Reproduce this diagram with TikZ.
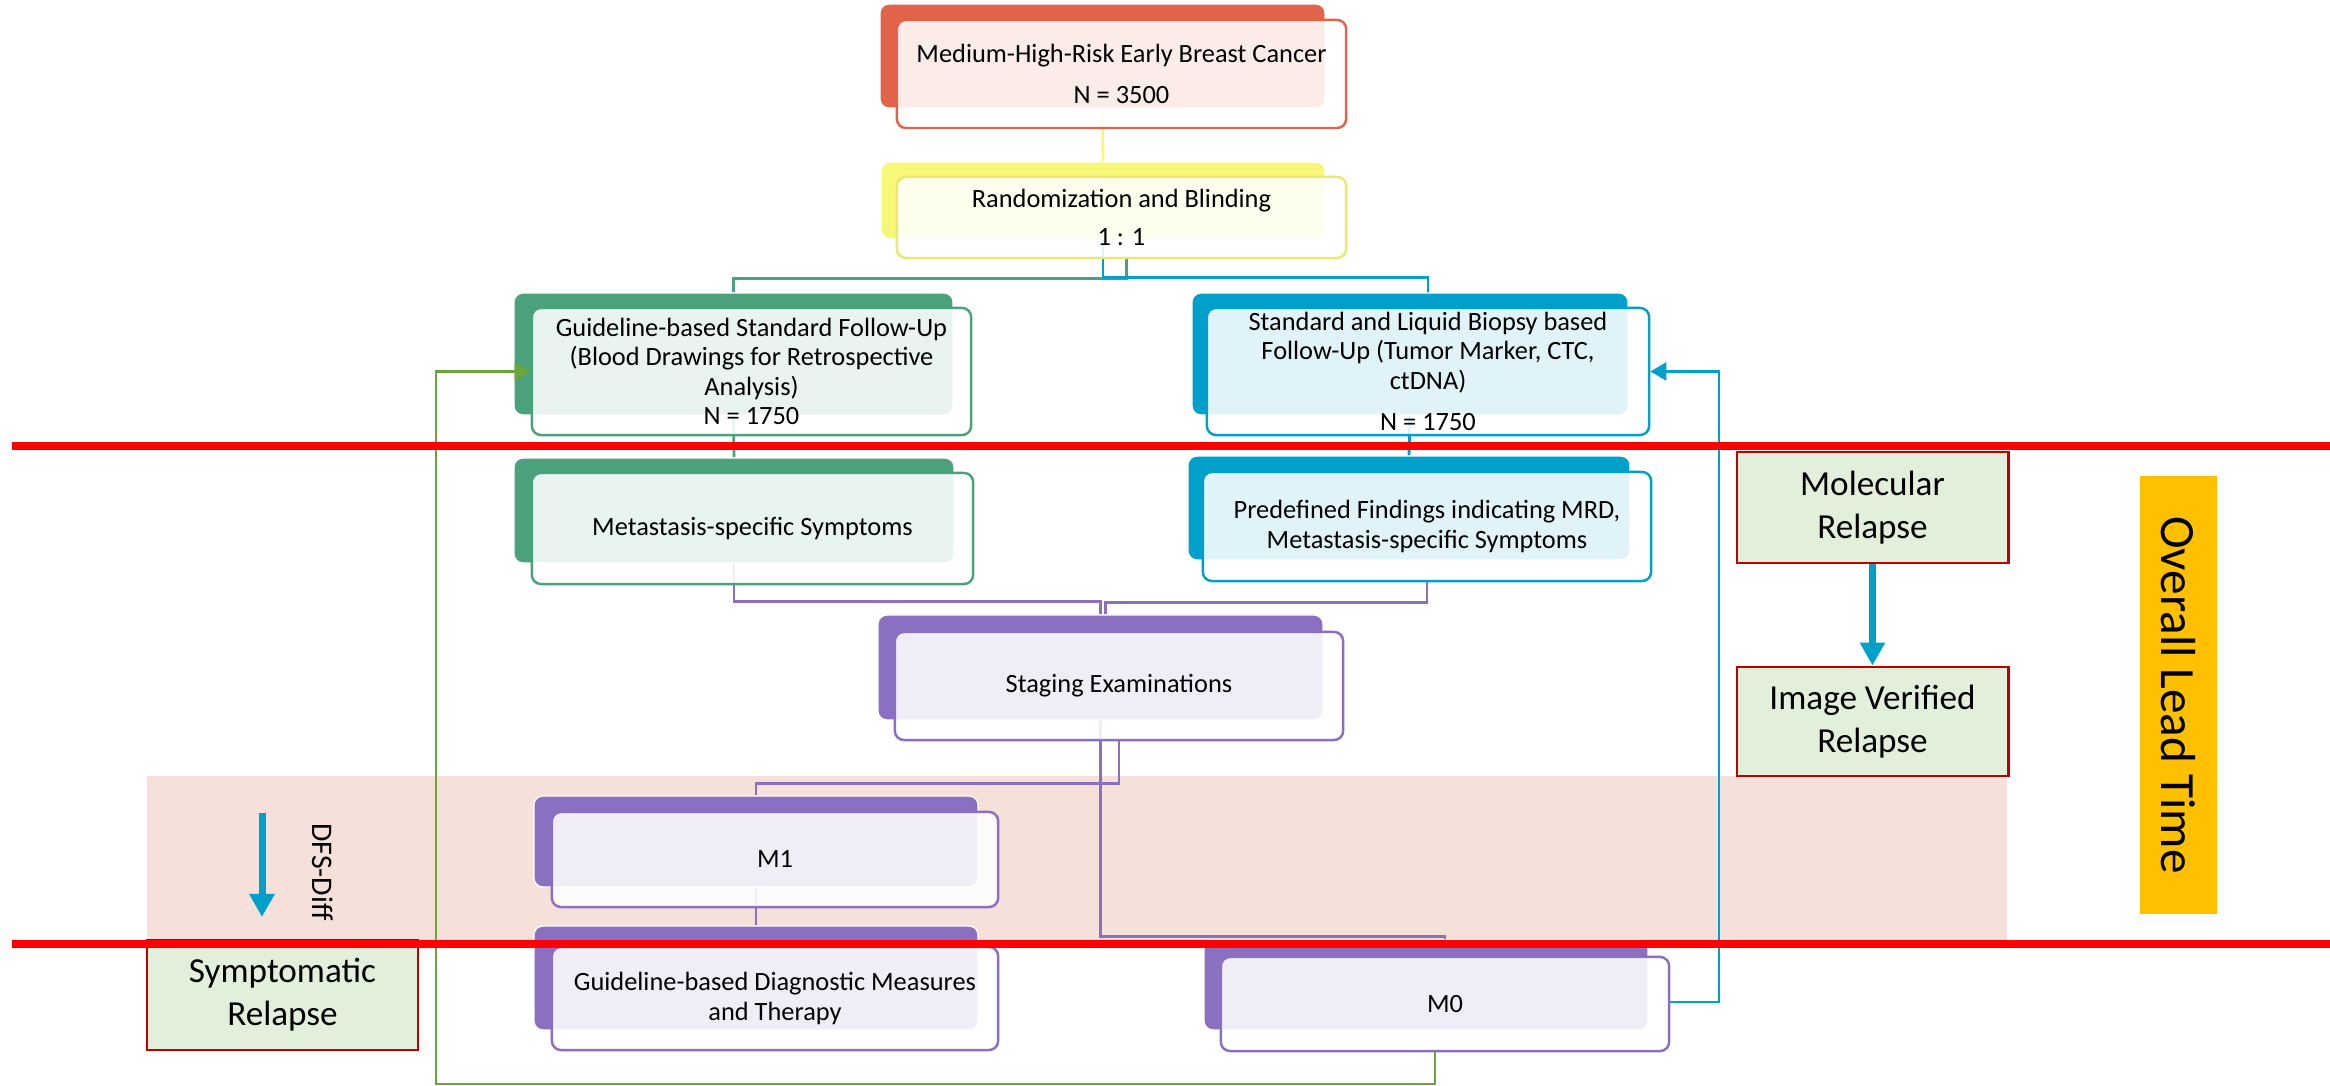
\documentclass[tikz,border=0pt]{standalone}
\usepackage{fontspec}
\setmainfont{Carlito}
\usepackage{tikz}
\usetikzlibrary{arrows.meta}
\usetikzlibrary{backgrounds}
\usetikzlibrary{calc}
\definecolor{cohortred}{HTML}{E0634A}
\definecolor{randyellow}{HTML}{F8F878}
\definecolor{armgreen}{HTML}{4CA17D}
\definecolor{armblue}{HTML}{00A0CB}
\definecolor{stagepurple}{HTML}{8B6FC0}
\definecolor{loopgreen}{HTML}{6AA63A}
\definecolor{relapsered}{HTML}{C00000}
\definecolor{relapsefill}{HTML}{E2EFDA}
\definecolor{leadorange}{HTML}{FFC000}
\definecolor{bandpink}{HTML}{F6E0DA}
\tikzset{
	every node/.style={font=\fontsize{7.5}{8.4}\selectfont},
	backing/.style={
		fill=#1,
		draw=white,
		line width=0.4pt,
		rounded corners=0.09cm,
		inner sep=0pt,
	},
	cardbox/.style={
		draw=#1,
		fill=white,
		fill opacity=0.88,
		text opacity=1,
		line width=0.7pt,
		rounded corners=0.09cm,
		inner sep=0pt,
		align=center,
	},
	linkline/.style={
		draw=#1,
		line width=0.8pt,
	},
	relapse/.style={
		draw=relapsered,
		fill=relapsefill,
		line width=0.8pt,
		inner sep=0pt,
		align=center,
		minimum width=2.71cm,
		font=\fontsize{10}{12.2}\selectfont,
	},
	redline/.style={draw=red, line width=2pt},
	bigarrow/.style={
		draw=armblue,
		line width=0.07cm,
		-{Triangle[length=0.23cm,width=0.24cm]}
	},
	looparrow/.style={
		line width=0.8pt,
		-{Triangle[length=0.16cm,width=0.18cm]}
	},
}

\begin{document}
\begin{tikzpicture}[x=0.01cm,y=-0.01cm]
		\useasboundingbox (0,0) rectangle (2330,1086);

		\begin{pgfonlayer}{background}
			\fill[bandpink] (147,776) rectangle (2007,944);
		\end{pgfonlayer}

		\node[backing=cohortred, minimum width=4.45cm, minimum height=1.04cm] (cohortbk) at (1102.5,56) {};
		\node[cardbox=cohortred, minimum width=4.49cm, minimum height=1.08cm] (cohort) at (1121.5,74) {Medium-High-Risk Early Breast Cancer\\[1.2mm] N = 3500};

		\node[backing=randyellow, minimum width=4.44cm, minimum height=0.77cm] (randombk) at (1103,200.5) {};
		\node[cardbox=randyellow!90!black!60!randyellow, minimum width=4.49cm, minimum height=0.81cm] (random) at (1121.5,217.5) {Randomization and Blinding\\[0.8mm] 1 : 1};

%*********

		\node[backing=armgreen, minimum width=4.39cm, minimum height=1.22cm] (stdfubk) at (733.5,354) {};
		\node[cardbox=armgreen, minimum width=4.39cm, minimum height=1.27cm] (stdfu) at (751.5,371.5) {Guideline-based Standard Follow-Up\\(Blood Drawings for Retrospective\\Analysis)\\N = 1750};

		\node[backing=armblue, minimum width=4.36cm, minimum height=1.22cm] (lbfubk) at (1410,354) {};
		\node[cardbox=armblue, minimum width=4.42cm, minimum height=1.27cm] (lbfu) at (1428,371.5) {Standard and Liquid Biopsy based\\Follow-Up (Tumor Marker, CTC,\\ctDNA)\\[1.2mm] N = 1750};

		\node[backing=armgreen, minimum width=4.40cm, minimum height=1.05cm] (sympbk) at (734,510.5) {};
		\node[cardbox=armgreen, minimum width=4.41cm, minimum height=1.11cm] (symp) at (752.5,528.5) {Metastasis-specific Symptoms};

		\node[backing=armblue, minimum width=4.42cm, minimum height=1.04cm] (mrdbk) at (1409,508) {};
		\node[cardbox=armblue, minimum width=4.48cm, minimum height=1.09cm] (mrd) at (1427,526.5) {Predefined Findings indicating MRD,\\Metastasis-specific Symptoms};

%*********

		\node[backing=stagepurple, minimum width=4.45cm, minimum height=1.05cm] (stagingbk) at (1100.5,667.5) {};
		\node[cardbox=stagepurple, minimum width=4.48cm, minimum height=1.08cm] (staging) at (1119,686) {Staging Examinations};

		\node[backing=stagepurple, minimum width=4.44cm, minimum height=0.91cm] (monebk) at (756,841.5) {};
		\node[cardbox=stagepurple, minimum width=4.46cm, minimum height=0.95cm] (mone) at (775,859.5) {M1};

		\node[backing=stagepurple, minimum width=4.44cm, minimum height=1.04cm] (therapybk) at (756,978) {};
		\node[cardbox=stagepurple, minimum width=4.46cm, minimum height=1.03cm] (therapy) at (775,998.5) {Guideline-based Diagnostic Measures\\and Therapy};

		\node[backing=stagepurple, minimum width=4.44cm, minimum height=0.90cm] (mzerobk) at (1426,985) {};
		\node[cardbox=stagepurple, minimum width=4.48cm, minimum height=0.94cm] (mzero) at (1445,1004) {M0};

%*********

		\node[relapse, minimum height=1.10cm] (symrel) at (282.5,995) {Symptomatic\\Relapse};
		\node[relapse, minimum height=1.11cm] (molrel) at (1872.5,507.5) {Molecular\\Relapse};
		\node[relapse, minimum height=1.09cm] (imgrel) at (1872.5,721.5) {Image Verified\\Relapse};

		\node[fill=leadorange, inner sep=0pt, minimum width=4.38cm, minimum height=0.77cm, rotate=-90, font=\fontsize{14}{16}\selectfont] (leadtime) at (2178.5,695) {Overall Lead Time};

		\node[rotate=-90, inner sep=0pt, font=\fontsize{8.5}{10}\selectfont] (dfslabel) at (323,872) {DFS-Diff};
		\coordinate (dfstop) at (262,813);
		\coordinate (dfsbot) at (262,917);

		\coordinate (gloop) at (436,1084);
		\coordinate (bloop) at (1719,371.5);

		\begin{pgfonlayer}{background}
			\draw[linkline=randyellow] (cohortbk.south) -- (randombk.north);
			\draw[linkline=armgreen] ([xshift=0.05cm]random.south) -- ++(0,19) -| (stdfubk.north);
			\draw[linkline=armblue] (randombk.south) -- ++(0,38) -| (lbfu.north);
			\draw[linkline=armgreen] (stdfubk.south) -- (sympbk.north);
			\draw[linkline=armblue] (lbfubk.south) -- (mrdbk.north);
			\draw[linkline=stagepurple] (sympbk.south) -- ++(0,38) -| (stagingbk.north);
			\draw[linkline=stagepurple] (mrd.south) -- ++(0,20) -| ([xshift=0.05cm]stagingbk.north);
			\draw[linkline=stagepurple] (staging.south) -- ++(0,42) -| (monebk.north);
			\draw[linkline=stagepurple] (stagingbk.south) -- ++(0,216) -| (mzero.north);
			\draw[linkline=stagepurple] (monebk.south) -- (therapybk.north);
		\end{pgfonlayer}

		\draw[looparrow, draw=loopgreen] ([xshift=-0.1cm]mzero.south) |- (gloop) |- (stdfu.west);
		\draw[looparrow, draw=armblue] ([yshift=0.02cm]mzero.east) -| (bloop) -- (lbfu.east);

		\draw[bigarrow] (molrel.south) -- (imgrel.north);
		\draw[bigarrow] (dfstop) -- (dfsbot);

%*********

		\draw[redline] (12,446) -- (2330,446);
		\draw[redline] (12,944) -- (2330,944);

	\end{tikzpicture}
\end{document}
